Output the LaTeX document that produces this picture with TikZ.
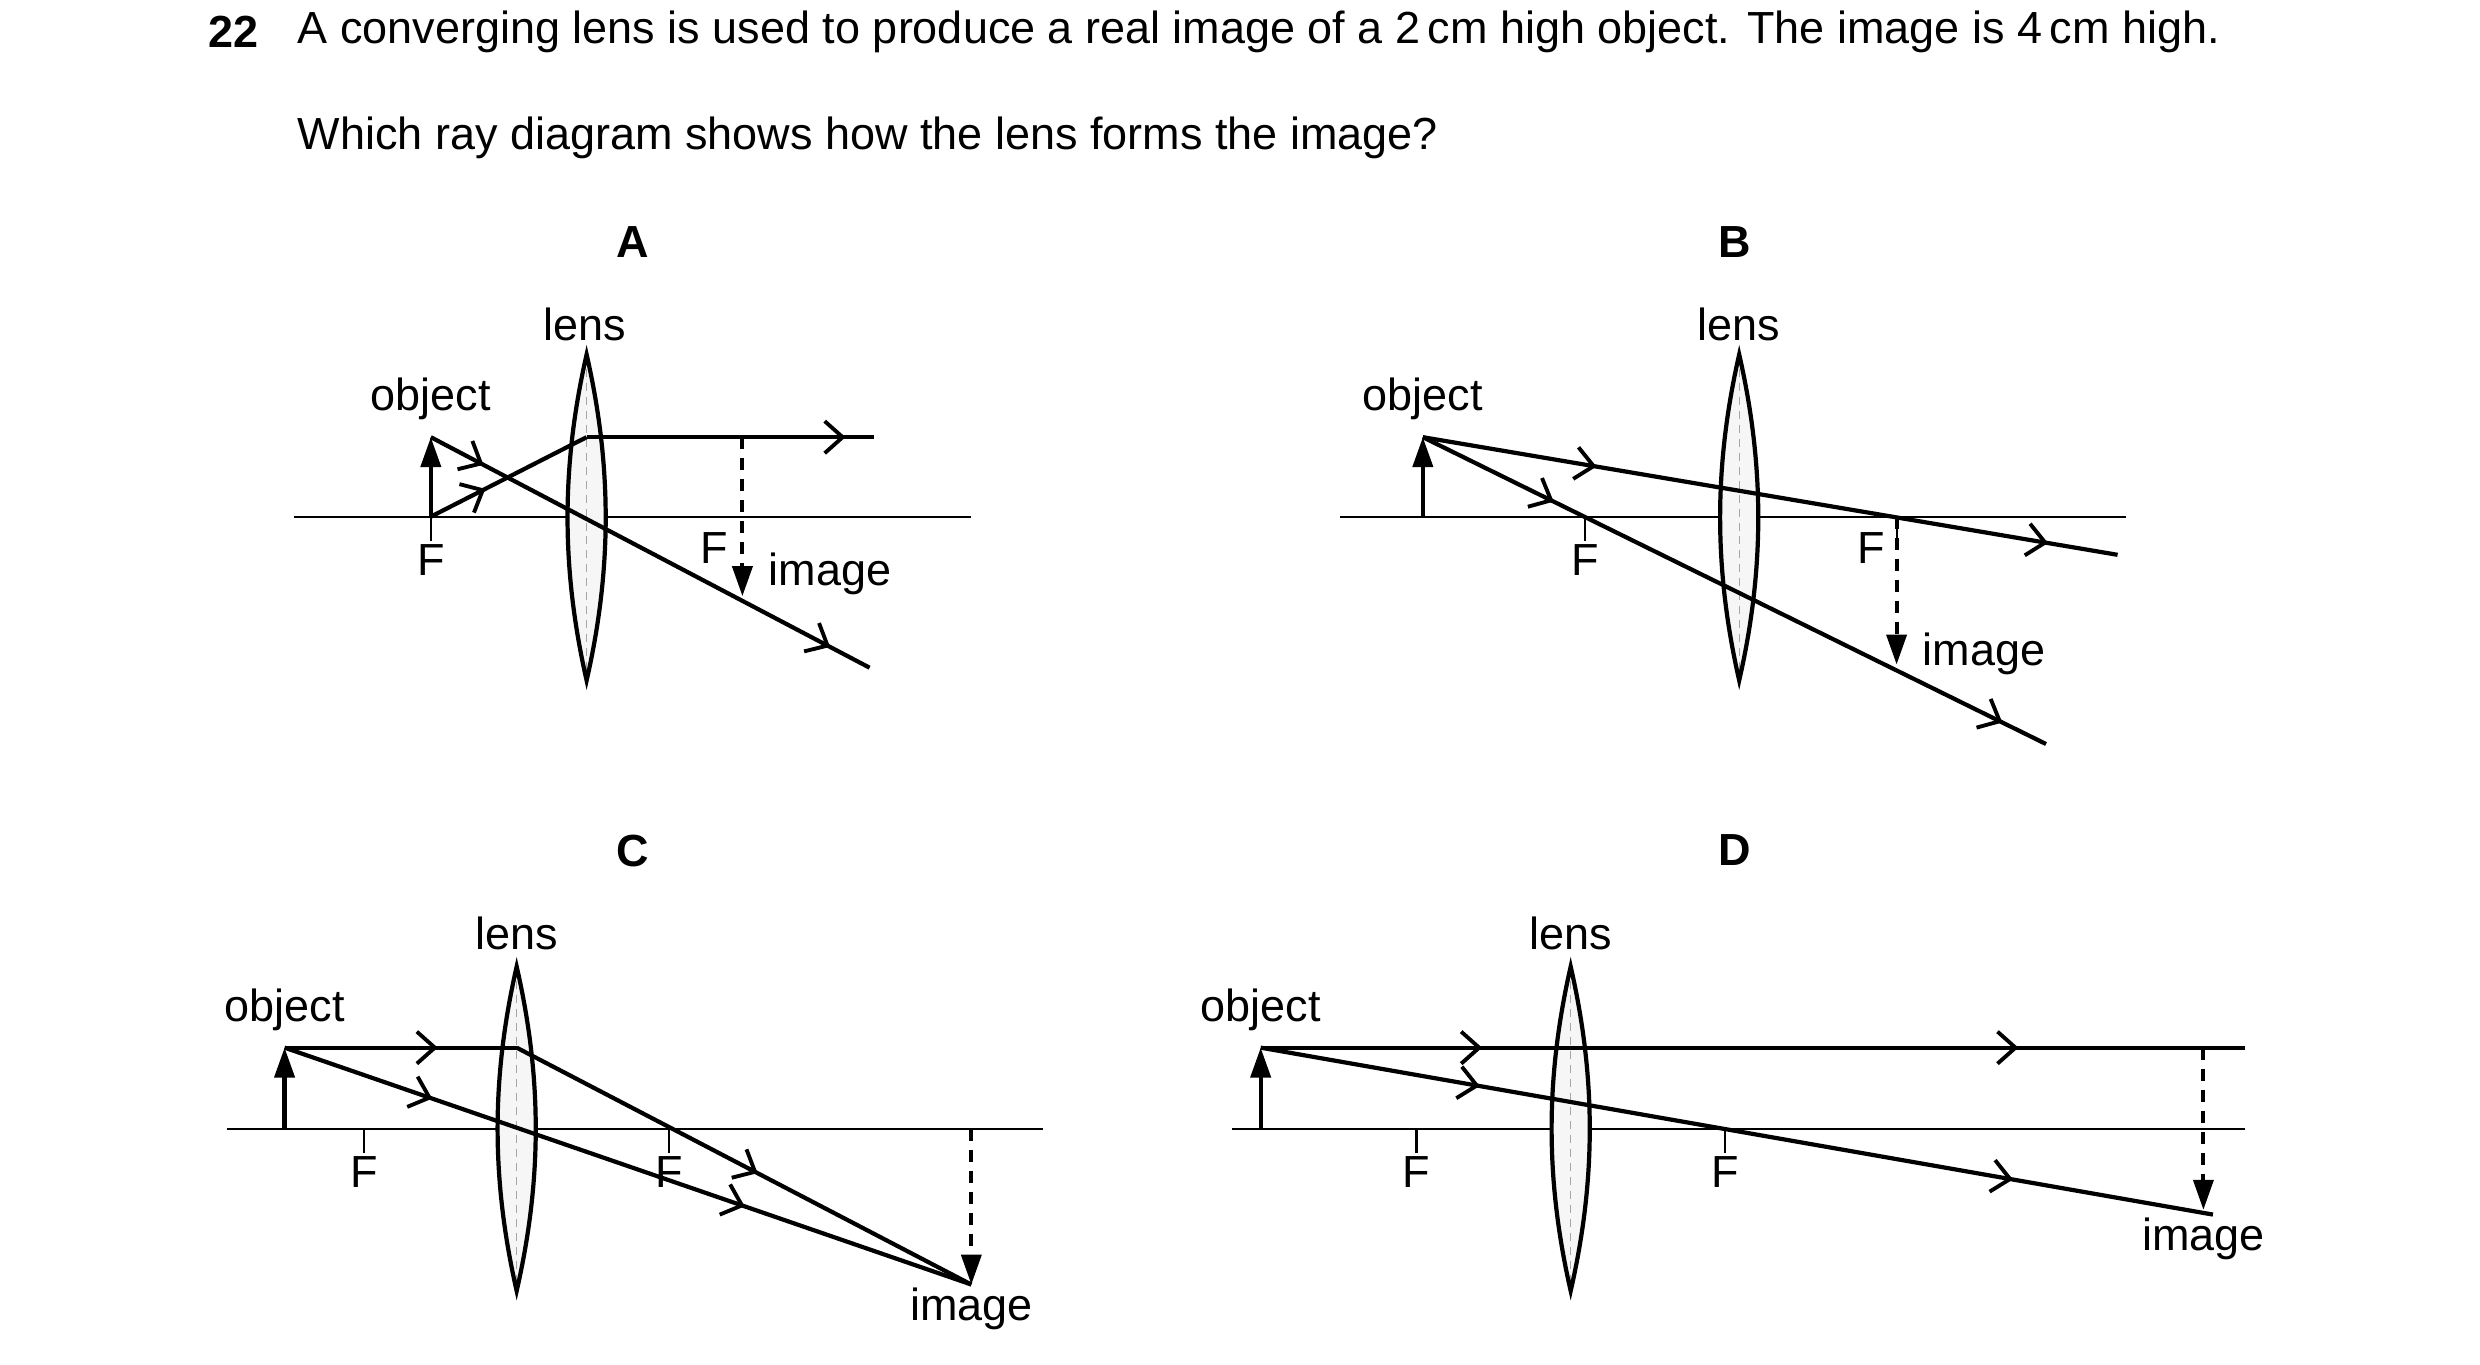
\documentclass[tikz,border=0pt]{standalone}
\usepackage{fontspec}
\setmainfont{Liberation Sans}
\usetikzlibrary{arrows.meta,decorations.markings}

\tikzset{
  txt/.style={font=\fontsize{12.8}{15}\selectfont, inner sep=0pt},
  ray/.style={line width=1.2pt},
  axis/.style={line width=0.6pt},
  arr/.style={postaction={decorate,decoration={markings,
      mark=at position #1 with {\arrow{Straight Barb[length=1.8mm,width=3.2mm,line width=1.1pt]}}}}},
  obj/.style={line width=1.2pt,-{Triangle[length=3mm,width=2mm]}},
  img/.style={line width=1.1pt,dash pattern=on 1.2mm off 0.9mm,-{Triangle[length=3mm,width=2mm]}},
}

% lens centred at #1, top y #2, bottom y #3
\newcommand{\lensat}[3]{%
  \fill[gray!7] (#1,#2) .. controls (#1+16,#2+70) and (#1+16,#3-70) .. (#1,#3)
     .. controls (#1-16,#3-70) and (#1-16,#2+70) .. cycle;
  \draw[gray!70, line width=0.3pt, dash pattern=on 0.8mm off 0.6mm] (#1,#2) -- (#1,#3);
  \draw[line width=1.2pt] (#1,#2) .. controls (#1+16,#2+70) and (#1+16,#3-70) .. (#1,#3)
     .. controls (#1-16,#3-70) and (#1-16,#2+70) .. cycle;
}

\begin{document}
\begin{tikzpicture}[x=0.159mm,y=-0.159mm]
\useasboundingbox (0,0) rectangle (1560,858.6);

% question
\node[txt,font=\fontsize{12.8}{15}\selectfont\bfseries] (qno) at (147,20) {22};
\node[txt,anchor=west] (q1) at (187,20) {A converging lens is used to produce a real image of a 2\,cm high object. The image is 4\,cm high.};
\node[txt,anchor=west] (q2) at (187,87) {Which ray diagram shows how the lens forms the image?};

\node[txt,font=\fontsize{12.8}{15}\selectfont\bfseries] (la) at (398,152) {A};
\node[txt,font=\fontsize{12.8}{15}\selectfont\bfseries] (lb) at (1091,152) {B};
\node[txt,font=\fontsize{12.8}{15}\selectfont\bfseries] (lc) at (398,535) {C};
\node[txt,font=\fontsize{12.8}{15}\selectfont\bfseries] (ld) at (1091,535) {D};

%% A
\draw[axis] (185,325) -- (611,325);
\lensat{369}{223}{428}
\node[txt] (lensA) at (368,204) {lens};
\coordinate (oA) at (271,325);
\coordinate (tA) at (271,275);
\coordinate (pA) at (369,275);
\coordinate (eA) at (550,275);
\coordinate (fA) at (547,420);
\draw[axis] (oA) -- ++(0,15);
\node[txt] (FA1) at (271,352) {F};
\node[txt] (FA2) at (449,345) {F};
\draw[obj] (oA) -- (tA);
\node[txt] (objA) at (271,251) {object};
\draw[ray,arr=0.35] (oA) -- (pA);
\draw[ray,arr=0.9] (pA) -- (eA);
\draw[ray,arr=0.12,arr=0.91] (tA) -- (fA);
\draw[img] (467,275) -- (467,375);
\node[txt] (imA) at (522,361) {image};

%% B
\draw[axis] (843,325) -- (1337,325);
\lensat{1094}{223}{428}
\node[txt] (lensB) at (1094,204) {lens};
\coordinate (oB) at (895,325);
\coordinate (tB) at (895,275);
\draw[axis] (997,325) -- ++(0,15);
\draw[axis] (1193,325) -- ++(0,15);
\node[txt] (FB1) at (997,352) {F};
\node[txt] (FB2) at (1177,345) {F};
\draw[obj] (oB) -- (tB);
\node[txt] (objB) at (895,251) {object};
\draw[ray,arr=0.25,arr=0.9] (tB) -- (1332,349);
\draw[ray,arr=0.21,arr=0.93] (tB) -- (1287,468);
\draw[img] (1193,325) -- (1193,418);
\node[txt] (imB) at (1248,411) {image};

%% C
\draw[axis] (143,710) -- (656,710);
\lensat{325}{608}{812}
\node[txt] (lensC) at (325,587) {lens};
\coordinate (oC) at (179,710);
\coordinate (tC) at (179,659);
\coordinate (pC) at (325,659);
\coordinate (iC) at (611,808);
\draw[axis] (229,710) -- ++(0,15);
\draw[axis] (421,710) -- ++(0,15);
\node[txt] (FC1) at (229,737) {F};
\node[txt] (FC2) at (421,737) {F};
\draw[obj] (oC) -- (tC);
\node[txt] (objC) at (179,635) {object};
\draw[ray,arr=0.66] (tC) -- (pC);
\draw[ray,arr=0.53] (pC) -- (iC);
\draw[ray,arr=0.215,arr=0.67] (tC) -- (iC);
\draw[img] (611,710) -- (iC);
\node[txt] (imC) at (611,823) {image};

%% D
\draw[axis] (775,710) -- (1412,710);
\lensat{988}{608}{812}
\node[txt] (lensD) at (988,587) {lens};
\coordinate (oD) at (793,710);
\coordinate (tD) at (793,659);
\draw[axis] (891,710) -- ++(0,15);
\draw[axis] (1085,710) -- ++(0,15);
\node[txt] (FD1) at (891,737) {F};
\node[txt] (FD2) at (1085,737) {F};
\draw[obj] (oD) -- (tD);
\node[txt] (objD) at (793,635) {object};
\draw[ray,arr=0.225,arr=0.77] (tD) -- (1412,659);
\draw[ray,arr=0.23,arr=0.79] (tD) -- (1392,764);
\draw[img] (1386,659) -- (1386,761);
\node[txt] (imD) at (1386,779) {image};
\end{tikzpicture}
\end{document}
